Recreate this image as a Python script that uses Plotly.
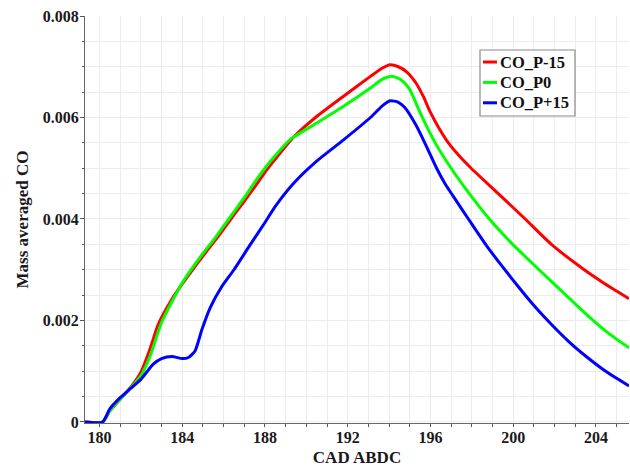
import plotly.graph_objects as go

# ---- data (CO mass fraction in units of 1e-3) ----
cad_p15m = [179.3, 180.15, 180.5, 181.0, 181.5, 182.0, 182.45, 182.8, 183.0, 183.5, 184.0, 184.5,
            185.0, 185.5, 186.0, 186.5, 187.0, 187.5, 188.0, 188.5, 189.4, 190.5, 191.8, 193.1,
            193.7, 194.05, 194.45, 194.85, 195.3, 195.65, 196.0, 196.4, 196.87, 197.4, 197.97,
            199.28, 200.58, 201.85, 203.37, 204.3, 205.0, 205.6]
co_p15m = [0, 0, 0.22, 0.45, 0.68, 0.98, 1.45, 1.88, 2.06, 2.42, 2.72, 3.0,
           3.27, 3.53, 3.8, 4.08, 4.35, 4.63, 4.92, 5.18, 5.62, 6.02, 6.42, 6.81,
           6.98, 7.04, 7.0, 6.9, 6.68, 6.42, 6.1, 5.8, 5.5, 5.24, 5.0,
           4.5, 4.0, 3.5, 3.02, 2.76, 2.58, 2.43]

cad_p0 = [179.3, 180.15, 180.5, 181.0, 181.5, 182.0, 182.45, 183.0, 183.5, 184.0, 184.5,
          185.0, 185.5, 186.0, 186.5, 187.0, 187.5, 188.0, 188.5, 189.2, 190.5, 191.8, 193.1,
          193.7, 194.05, 194.4, 194.7, 195.0, 195.55, 196.23, 197.0, 197.88, 198.85, 199.98,
          201.25, 202.5, 203.7, 204.6, 205.6]
co_p0 = [0, 0, 0.22, 0.45, 0.67, 0.91, 1.3, 1.96, 2.37, 2.74, 3.04,
         3.32, 3.58, 3.86, 4.14, 4.42, 4.72, 5.0, 5.25, 5.56, 5.89, 6.22, 6.58,
         6.76, 6.81, 6.78, 6.7, 6.55, 6.05, 5.5, 5.0, 4.5, 4.0, 3.5,
         3.0, 2.52, 2.06, 1.75, 1.46]

cad_p15p = [179.3, 180.15, 180.5, 181.0, 181.5, 182.0, 182.6, 183.0, 183.5, 184.0, 184.3,
            184.62, 184.95, 185.35, 185.9, 186.5, 187.25, 188.0, 188.5, 189.4, 190.5, 191.8,
            193.1, 193.7, 194.05, 194.45, 194.75, 195.3, 195.75, 196.3, 196.7, 197.1, 197.9,
            198.7, 199.5, 200.3, 201.1, 201.9, 202.7, 203.5, 204.3, 205.0, 205.6]
co_p15p = [0, 0, 0.26, 0.48, 0.66, 0.84, 1.14, 1.25, 1.29, 1.25, 1.27,
           1.4, 1.82, 2.25, 2.66, 3.0, 3.47, 3.93, 4.25, 4.71, 5.14, 5.56,
           6.0, 6.24, 6.33, 6.3, 6.2, 5.85, 5.48, 5.0, 4.7, 4.45, 3.96,
           3.48, 3.05, 2.64, 2.25, 1.9, 1.58, 1.3, 1.05, 0.86, 0.71]

series_names = ["CO_P-15", "CO_P0", "CO_P+15"]
series_x = [cad_p15m, cad_p0, cad_p15p]
series_y = [co_p15m, co_p0, co_p15p]
series_colors = ["#ff0000", "#00ff00", "#0000ff"]

y_tickvals = [0, 0.002, 0.004, 0.006, 0.008]
y_ticktext = ["0", "0.002", "0.004", "0.006", "0.008"]
x_tickvals = [180, 184, 188, 192, 196, 200, 204]

FONT = "Liberation Serif, Times New Roman, serif"
W, H = 630, 467
ML, MR, MT, MB = 85, 1, 16, 44
PW, PH = W - ML - MR, H - MT - MB


def px_to_paper(px, py):
    return (px - ML) / PW, (H - MB - py) / PH


fig = go.Figure()
for name, xs, ys, col in zip(series_names, series_x, series_y, series_colors):
    fig.add_trace(go.Scatter(
        x=xs, y=[v * 1e-3 for v in ys], name=name, mode="lines",
        line=dict(color=col, width=3, shape="spline", smoothing=0.6),
        showlegend=False,
    ))

# custom legend box (matches the compact boxed legend of the reference)
shapes = []
annotations = []
bx0, by0 = px_to_paper(480, 116)
bx1, by1 = px_to_paper(575, 50)
shapes.append(dict(type="rect", xref="paper", yref="paper", x0=bx0, y0=by0, x1=bx1, y1=by1,
                   line=dict(color="#8a8a8a", width=1.2), fillcolor="white", layer="above"))
legend_font = dict(family=FONT, size=16.5, color="#111", weight="bold")
for i, (name, col) in enumerate(zip(series_names, series_colors)):
    cy = 62 + i * 20.4
    lx0, ly = px_to_paper(483, cy)
    lx1, _ = px_to_paper(497, cy)
    tx, _ = px_to_paper(497.5, cy)
    shapes.append(dict(type="line", xref="paper", yref="paper", x0=lx0, x1=lx1, y0=ly, y1=ly,
                       line=dict(color=col, width=3), layer="above"))
    annotations.append(dict(text=name, xref="paper", yref="paper", x=tx, y=ly,
                            xanchor="left", yanchor="middle", showarrow=False,
                            font=legend_font))

grid = "#ececec"
tick_font = dict(family=FONT, size=16, color="#1a1a1a", weight="bold")
title_font = dict(family=FONT, size=17, color="#1a1a1a", weight="bold")
fig.update_layout(
    width=W, height=H,
    margin=dict(l=ML, r=MR, t=MT, b=MB, autoexpand=False),
    paper_bgcolor="white", plot_bgcolor="white",
    font=dict(family=FONT, size=16, color="#1a1a1a", weight="bold"),
    showlegend=False,
    shapes=shapes,
    annotations=annotations,
    xaxis=dict(
        range=[179.3, 205.6],
        tickvals=x_tickvals,
        ticks="outside", ticklen=3, tickcolor="#555",
        showline=True, linecolor="#666", linewidth=1,
        showgrid=True, gridcolor=grid, gridwidth=1,
        minor=dict(dtick=1, tick0=180, ticks="outside", ticklen=3, tickcolor="#555",
                   showgrid=True, gridcolor=grid),
        tickfont=tick_font,
        ticklabelstandoff=-3,
        automargin=False,
        title=dict(text="CAD ABDC", standoff=8, font=title_font),
        zeroline=False,
    ),
    yaxis=dict(
        range=[-0.00002, 0.008],
        tickvals=y_tickvals, ticktext=y_ticktext,
        ticks="outside", ticklen=4, tickcolor="#555",
        showline=True, linecolor="#666", linewidth=1,
        showgrid=True, gridcolor=grid, gridwidth=1,
        minor=dict(dtick=0.0005, tick0=0, ticks="outside", ticklen=2, tickcolor="#555",
                   showgrid=True, gridcolor=grid),
        tickfont=tick_font,
        ticklabelstandoff=-2,
        automargin=False,
        title=dict(text="Mass averaged CO", standoff=9, font=title_font),
        zeroline=False,
    ),
)

fig.write_html("out.html", config={"displayModeBar": False},
               post_script="document.body.style.margin='0px';")
